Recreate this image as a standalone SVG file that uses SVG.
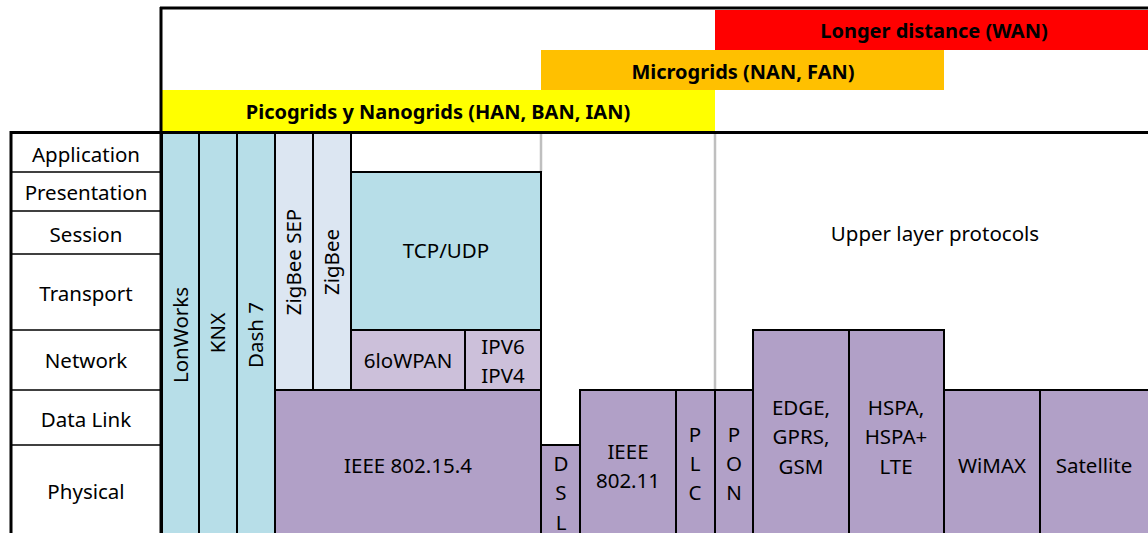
<svg xmlns="http://www.w3.org/2000/svg" width="1148" height="533" viewBox="0 0 1148 533">
<style>
text{font-family:"Noto Sans","Open Sans","Liberation Sans",sans-serif;fill:#000;}
.lbl{font-size:20.5px;text-anchor:middle;}
.t{font-size:20.5px;text-anchor:middle;}
.b{font-size:20px;font-weight:bold;text-anchor:middle;}
.box{stroke:#000;stroke-width:2;}
.lb{fill:#B7DEE8;}
.gb{fill:#DCE6F2;}
.lp{fill:#CCC0DA;}
.pp{fill:#B1A0C7;}
.sep{stroke:#000;stroke-width:1.5;}
.gray{stroke:#BFBFBF;stroke-width:2.5;}
</style>
<rect width="1148" height="533" fill="#fff"/>
<g id="banners">
  <rect x="715" y="10" width="433" height="40" fill="#FF0000"/>
  <text class="b" x="934" y="38">Longer distance (WAN)</text>
  <rect x="541" y="50" width="403" height="40" fill="#FFC000"/>
  <text class="b" x="743" y="79">Microgrids (NAN, FAN)</text>
  <rect x="162" y="90" width="553" height="41" fill="#FFFF00"/>
  <text class="b" x="438" y="119">Picogrids y Nanogrids (HAN, BAN, IAN)</text>
</g>
<g id="dividers">
  <line class="gray" x1="541" y1="133" x2="541" y2="172"/>
  <line class="gray" x1="715" y1="133" x2="715" y2="390"/>
</g>
<g id="layers">
  <line class="sep" x1="11" y1="172" x2="161" y2="172"/>
  <line class="sep" x1="11" y1="211" x2="161" y2="211"/>
  <line class="sep" x1="11" y1="254" x2="161" y2="254" stroke-width="2"/>
  <line class="sep" x1="11" y1="330" x2="161" y2="330"/>
  <line class="sep" x1="11" y1="390" x2="161" y2="390"/>
  <line class="sep" x1="11" y1="445" x2="161" y2="445" stroke-width="2"/>
  <text class="lbl" x="86" y="162">Application</text>
  <text class="lbl" x="86" y="200">Presentation</text>
  <text class="lbl" x="86" y="242">Session</text>
  <text class="lbl" x="86" y="301">Transport</text>
  <text class="lbl" x="86" y="368">Network</text>
  <text class="lbl" x="86" y="427">Data Link</text>
  <text class="lbl" x="86" y="499">Physical</text>
</g>
<g id="lonworks">
  <rect class="box lb" x="162" y="133" width="37" height="402"/>
  <text class="t" transform="translate(180.5,335) rotate(-90)" dy="0.35em">LonWorks</text>
</g>
<g id="knx">
  <rect class="box lb" x="199" y="133" width="38" height="402"/>
  <text class="t" transform="translate(218,333) rotate(-90)" dy="0.35em">KNX</text>
</g>
<g id="dash7">
  <rect class="box lb" x="237" y="133" width="38" height="402"/>
  <text class="t" transform="translate(256,335) rotate(-90)" dy="0.35em">Dash 7</text>
</g>
<g id="zigbee-sep">
  <rect class="box gb" x="275" y="133" width="38" height="257"/>
  <text class="t" transform="translate(294,262) rotate(-90)" dy="0.35em">ZigBee SEP</text>
</g>
<g id="zigbee">
  <rect class="box gb" x="313" y="133" width="38" height="257"/>
  <text class="t" transform="translate(332,262) rotate(-90)" dy="0.35em">ZigBee</text>
</g>
<g id="tcp-udp">
  <rect class="box lb" x="351" y="172" width="190" height="158"/>
  <text class="t" x="446" y="258">TCP/UDP</text>
</g>
<g id="sixlowpan">
  <rect class="box lp" x="351" y="330" width="114" height="60"/>
  <text class="t" x="408" y="368">6loWPAN</text>
</g>
<g id="ipv">
  <rect class="box lp" x="465" y="330" width="76" height="60"/>
  <text class="t" x="503" y="354">IPV6</text>
  <text class="t" x="503" y="383">IPV4</text>
</g>
<g id="ieee802154">
  <rect class="box pp" x="275" y="390" width="266" height="145"/>
  <text class="t" x="408" y="473">IEEE 802.15.4</text>
</g>
<g id="dsl">
  <rect class="box pp" x="541" y="445" width="39" height="90"/>
  <text class="t" x="561" y="471">D</text>
  <text class="t" x="561" y="500">S</text>
  <text class="t" x="561" y="530">L</text>
</g>
<g id="ieee80211">
  <rect class="box pp" x="580" y="390" width="96" height="145"/>
  <text class="t" x="628" y="459">IEEE</text>
  <text class="t" x="628" y="488">802.11</text>
</g>
<g id="plc">
  <rect class="box pp" x="676" y="390" width="39" height="145"/>
  <text class="t" x="695" y="442">P</text>
  <text class="t" x="695" y="471">L</text>
  <text class="t" x="695" y="500">C</text>
</g>
<g id="pon">
  <rect class="box pp" x="715" y="390" width="38" height="145"/>
  <text class="t" x="734" y="442">P</text>
  <text class="t" x="734" y="471">O</text>
  <text class="t" x="734" y="500">N</text>
</g>
<g id="edge">
  <rect class="box pp" x="753" y="330" width="96" height="205"/>
  <text class="t" x="801" y="415">EDGE,</text>
  <text class="t" x="801" y="444">GPRS,</text>
  <text class="t" x="801" y="474">GSM</text>
</g>
<g id="hspa">
  <rect class="box pp" x="849" y="330" width="95" height="205"/>
  <text class="t" x="896" y="415">HSPA,</text>
  <text class="t" x="896" y="444">HSPA+</text>
  <text class="t" x="896" y="474">LTE</text>
</g>
<g id="wimax">
  <rect class="box pp" x="944" y="390" width="96" height="145"/>
  <text class="t" x="992" y="473">WiMAX</text>
</g>
<g id="satellite">
  <rect class="box pp" x="1040" y="390" width="110" height="145"/>
  <text class="t" x="1094" y="473">Satellite</text>
</g>
<g id="upper-layer">
  <text class="t" x="935" y="241">Upper layer protocols</text>
</g>
<g id="frame">
  <line x1="160" y1="8" x2="1148" y2="8" stroke="#000" stroke-width="3"/>
  <line x1="161" y1="7" x2="161" y2="533" stroke="#000" stroke-width="3"/>
  <line x1="10" y1="132.5" x2="1148" y2="132.5" stroke="#000" stroke-width="3"/>
  <line x1="11" y1="131" x2="11" y2="533" stroke="#000" stroke-width="3"/>
</g>
</svg>
